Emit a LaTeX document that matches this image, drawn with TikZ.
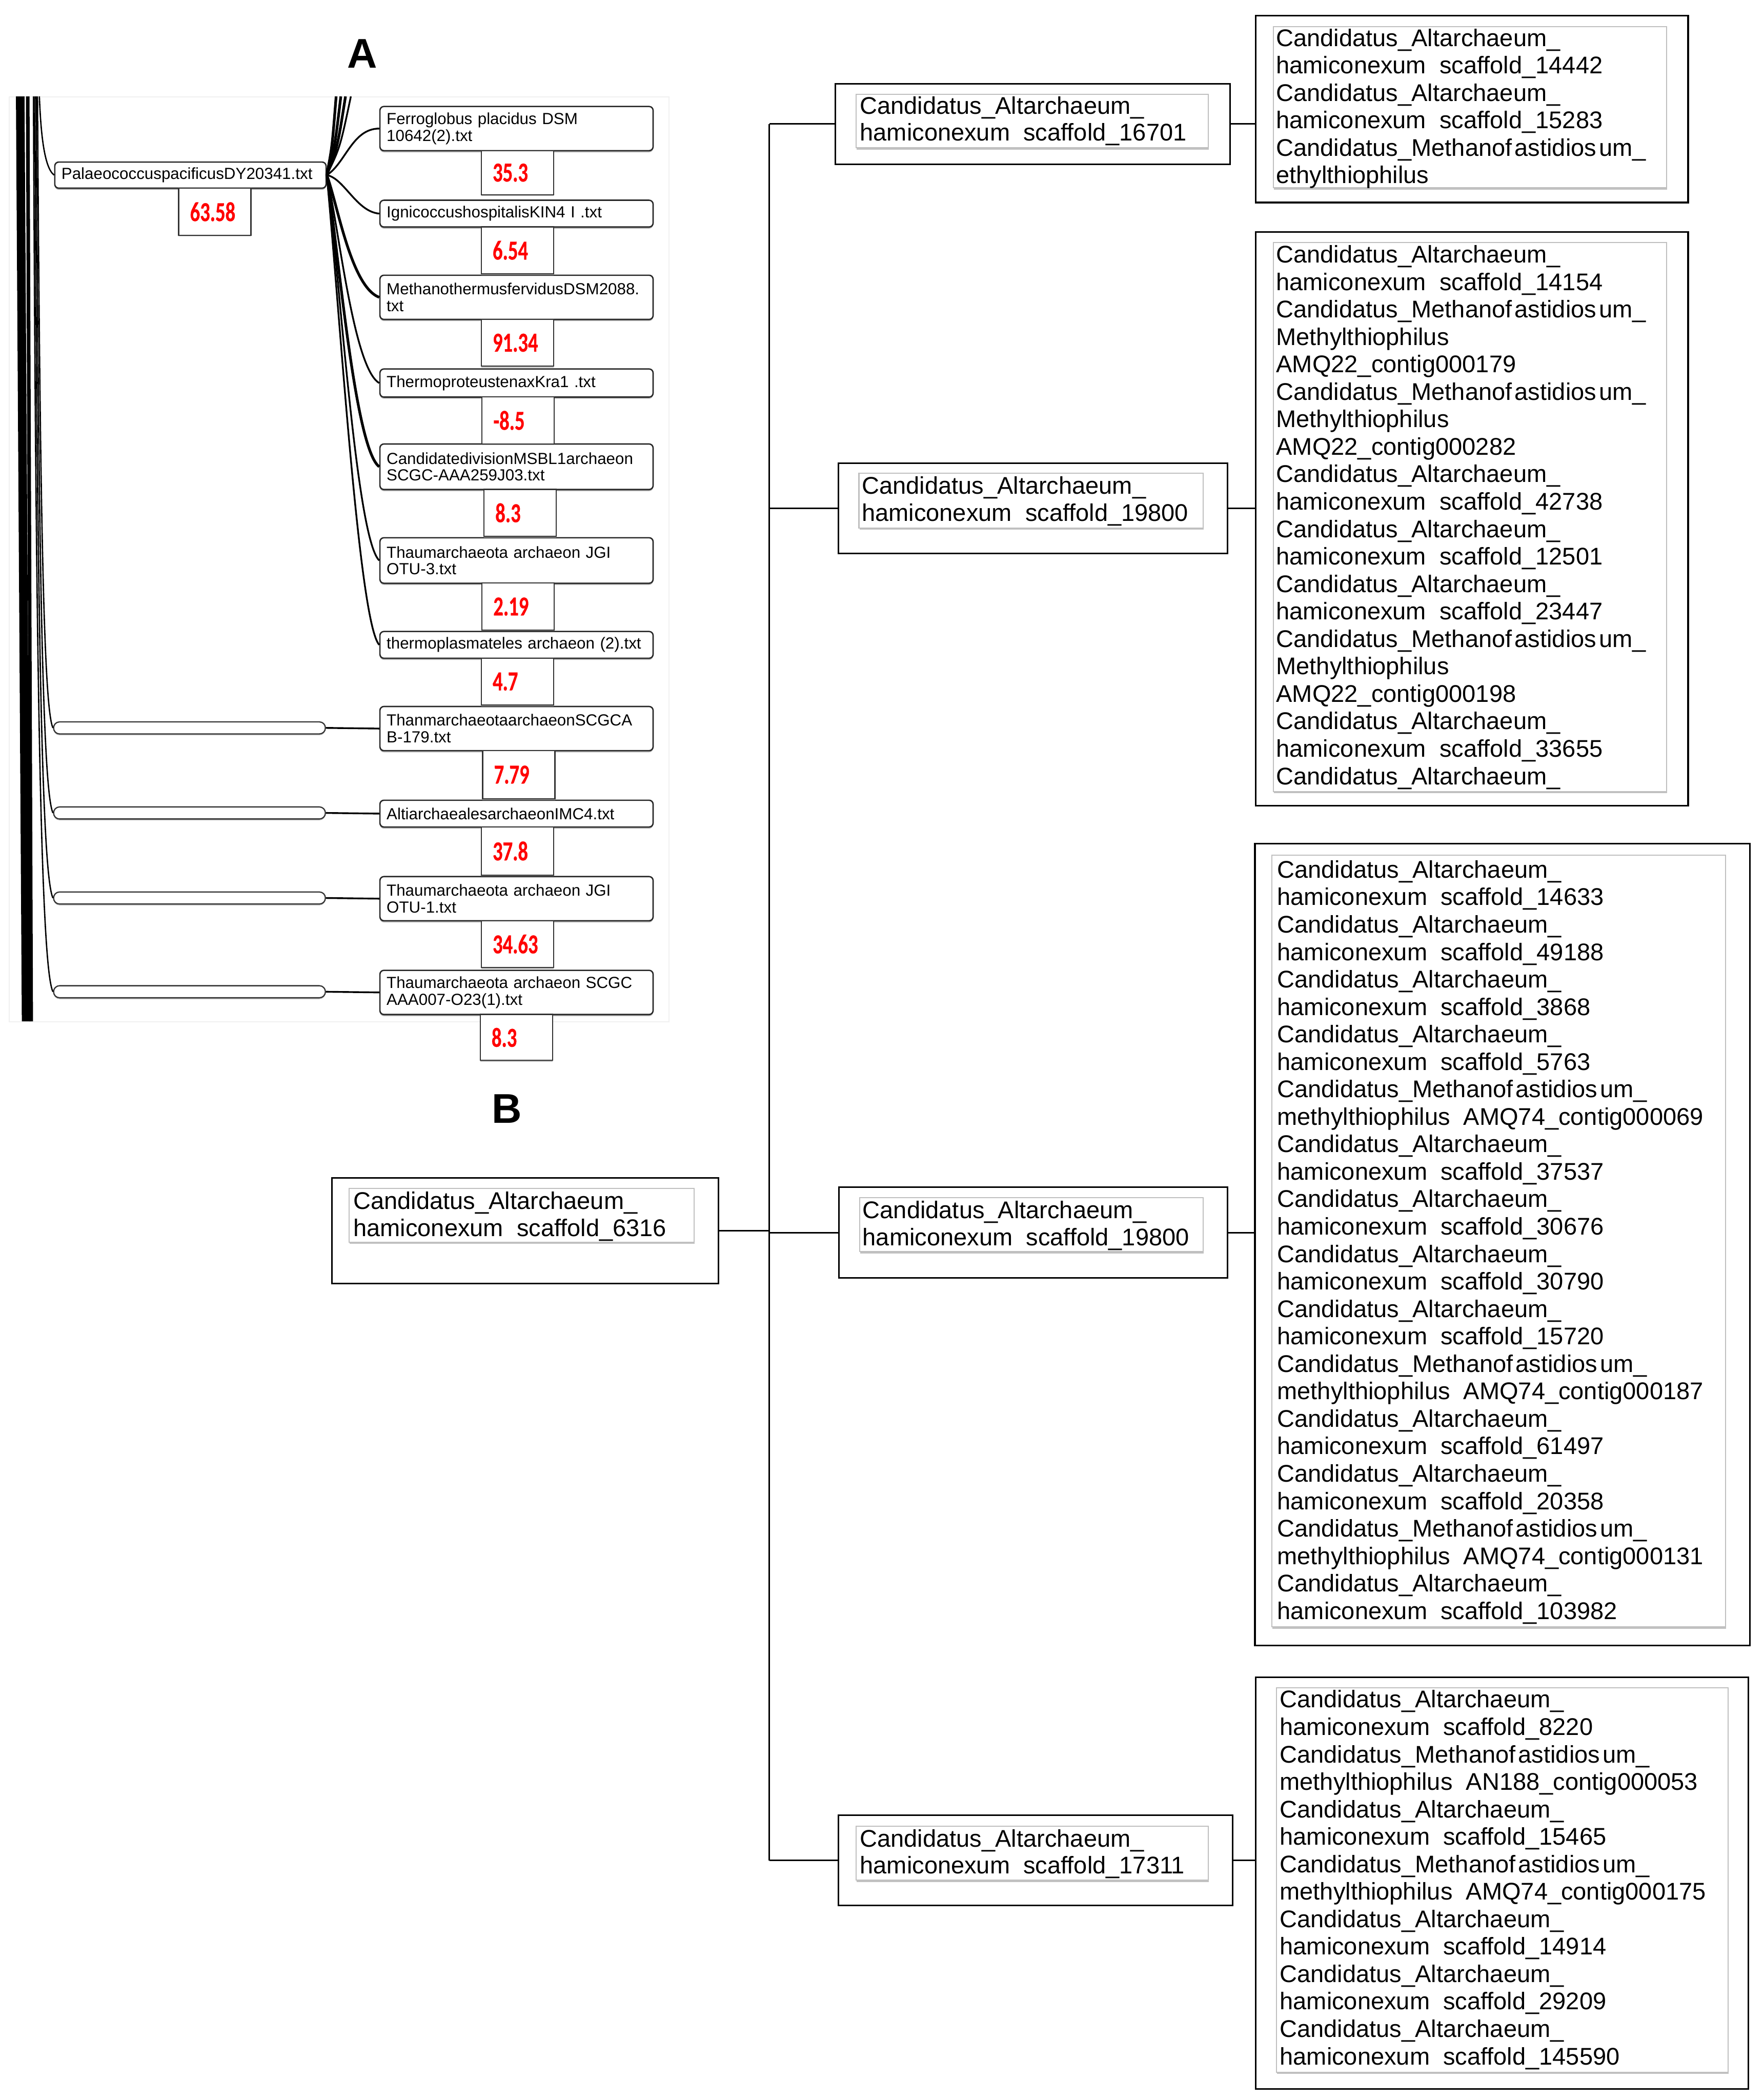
\documentclass[tikz,border=0pt]{standalone}
\usepackage{fontspec}
\setmainfont{Liberation Sans}
\newfontfamily\numfont{Carlito}[FakeStretch=0.72, BoldFeatures={FakeStretch=0.72, FakeBold=0.5}]
\usetikzlibrary{shadows}
\newcommand{\cAlt}{Candidatus\_Altarchaeum\_}
\newcommand{\cMeth}{Candidatus\_Methanof\kern2pt astidios\kern2pt um\_}
\newcommand{\hamS}[1]{hamiconexum\ \kern5pt scaffold\_#1}
\newcommand{\mAMQ}[1]{methylthiophilus\ \kern5pt #1}
\newcommand{\fl}{\rule{0pt}{14pt}}
\tikzset{
  albl/.style={draw=black!85, line width=1pt, rounded corners=3pt, fill=white,
    text width=194pt, inner xsep=5pt, inner ysep=0pt, align=left,
    font=\fontsize{12}{12.5}\selectfont, anchor=north west, minimum height=#1,
    drop shadow={shadow xshift=0pt, shadow yshift=-1.2pt, fill=black!45, opacity=0.7}},
  anum/.style={draw=black!80, line width=0.8pt, fill=white, text width=37pt,
    inner xsep=8.5pt, inner ysep=0pt, align=left, anchor=north west, minimum height=#1,
    font=\numfont\bfseries\fontsize{20.5}{20.5}\selectfont, text=red,
    drop shadow={shadow xshift=0pt, shadow yshift=-1pt, fill=black!45, opacity=0.6}},
  aempty/.style={draw=black!80, line width=0.9pt, rounded corners=4.5pt, fill=white,
    minimum width=203pt, minimum height=9pt, inner sep=0pt,
    drop shadow={shadow xshift=0pt, shadow yshift=-1pt, fill=black!45, opacity=0.6}},
  thinbr/.style={line width=1pt},
  branch/.style={line width=1.3pt},
  bundle/.style={line width=2pt},
  bouter/.style={draw=black, line width=1.2pt, fill=white, inner sep=0pt, anchor=north west},
  binner/.style={draw=black!25, line width=0.8pt, fill=white, inner sep=0pt, anchor=north west,
    drop shadow={shadow xshift=0.4pt, shadow yshift=-1.3pt, fill=black!30, opacity=0.8}},
  btxt/.style={anchor=north west, inner sep=0pt, align=left, font=\fontsize{18}{20.5}\selectfont},
  bmtxt/.style={anchor=north west, inner sep=0pt, align=left, font=\fontsize{18}{20.2}\selectfont},
  conn/.style={line width=1.1pt},
  plabel/.style={font=\bfseries\fontsize{31}{31}\selectfont, inner sep=0pt},
}
\begin{document}
\begin{tikzpicture}[x=1pt,y=-1pt]
\useasboundingbox (0,0) rectangle (1317,1568);

% ---------------- Panel A ----------------
\node[draw=black!6, line width=0.8pt, minimum width=492.5pt, minimum height=690.6pt,
      anchor=north west, inner sep=0pt] (panelA) at (6.5,72) {};
\node[plabel] (labA) at (270.5,40) {A};

% trunk
\draw[line width=6.4pt] (15.1,72) -- (19.5,762.6);
\draw[line width=2.7pt] (20.7,72) -- (23.3,762.6);

% left-side nodes
\node[albl=19.5pt, text width=192.6pt] (palaeo) at (40.4,120.5) {PalaeococcuspacificusDY20341.txt};
\node[aempty] (e1) at (141.5,543.5) {};
\node[aempty] (e2) at (141.5,607) {};
\node[aempty] (e3) at (141.5,670.5) {};
\node[aempty] (e4) at (141.5,740.5) {};

% coordinates where the cropped branches leave the picture
\coordinate (l0) at (29.4,72);
\coordinate (l1) at (28,72);
\coordinate (l2) at (27,72);
\coordinate (l3) at (26,72);
\coordinate (l4) at (25,72);
\coordinate (u1) at (251,72);
\coordinate (u2) at (254.5,72);
\coordinate (u3) at (258,72);
\coordinate (u4) at (262,72);

% right-side label boxes
\node[albl=33pt] (ferro) at (283.2,79) {Ferroglobus placidus DSM\\10642(2).txt};
\node[albl=20pt] (igni)  at (283.2,149) {IgnicoccushospitalisKIN4 I .txt};
\node[albl=33pt] (metha) at (283.2,205) {MethanothermusfervidusDSM2088.\\txt};
\node[albl=21pt] (tprot) at (283.2,275) {ThermoproteustenaxKra1 .txt};
\node[albl=34pt] (cdiv)  at (283.2,331) {CandidatedivisionMSBL1archaeon\\SCGC-AAA259J03.txt};
\node[albl=34pt] (otu3)  at (283.2,401) {Thaumarchaeota archaeon JGI\\OTU-3.txt};
\node[albl=20pt] (tplas) at (283.2,471) {thermoplasmateles archaeon (2).txt};
\node[albl=33pt] (thanm) at (283.2,527) {ThanmarchaeotaarchaeonSCGCA\\B-179.txt};
\node[albl=20pt] (alti)  at (283.2,597) {AltiarchaealesarchaeonIMC4.txt};
\node[albl=33pt] (otu1)  at (283.2,654) {Thaumarchaeota archaeon JGI\\OTU-1.txt};
\node[albl=33pt] (scgc)  at (283.2,724) {Thaumarchaeota archaeon SCGC\\AAA007-O23(1).txt};

% numbers
\node[anum=35pt]   (n0)  at (133,140.2) {63.58};
\node[anum=33pt]   (n1)  at (359,112) {35.3};
\node[anum=35pt]   (n2)  at (359,169) {6.54};
\node[anum=35pt]   (n3)  at (359,238) {91.34};
\node[anum=35pt]   (n4)  at (359.5,296) {-8.5};
\node[anum=35pt]   (n5)  at (361,365) {8.3};
\node[anum=35pt]   (n6)  at (359.5,435) {2.19};
\node[anum=35pt]   (n7)  at (359,491) {4.7};
\node[anum=36pt]   (n8)  at (360,560) {7.79};
\node[anum=36pt]   (n9)  at (359,617) {37.8};
\node[anum=35pt]   (n10) at (359,687) {34.63};
\node[anum=34.4pt] (n11) at (358.2,757) {8.3};

% branches on the left
\draw[thinbr] (l0) .. controls (30.5,100) and (33,125) .. (palaeo.west);
\draw[thinbr] (l1) .. controls (30,400) and (33,530) .. (e1.west);
\draw[thinbr] (l2) .. controls (29,450) and (32.5,592) .. (e2.west);
\draw[thinbr] (l3) .. controls (28,500) and (32,655) .. (e3.west);
\draw[thinbr] (l4) .. controls (27,550) and (31.5,725) .. (e4.west);

% bundle above the Palaeococcus node
\draw[bundle] (palaeo.east) .. controls (248,110) .. (u1);
\draw[bundle] (palaeo.east) .. controls (250,110) .. (u2);
\draw[bundle] (palaeo.east) .. controls (252,110) .. (u3);
\draw[branch] (palaeo.east) .. controls (254,110) .. (u4);

% branches from the Palaeococcus node
\draw[branch] (palaeo.east) .. controls (258,122) and (263,96) .. (ferro.west);
\draw[branch] (palaeo.east) .. controls (257,133) and (266,158) .. (igni.west);
\draw[bundle] (palaeo.east) .. controls (252,152) and (262,214) .. (metha.west);
\draw[branch] (palaeo.east) .. controls (253,170) and (264,275) .. (tprot.west);
\draw[bundle] (palaeo.east) .. controls (253,190) and (265,335) .. (cdiv.west);
\draw[branch] (palaeo.east) .. controls (254,210) and (266,402) .. (otu3.west);
\draw[branch] (palaeo.east) .. controls (254,236) and (268,465) .. (tplas.west);

% straight links from the empty nodes
\draw[branch] (e1.east) -- (thanm.west);
\draw[branch] (e2.east) -- (alti.west);
\draw[branch] (e3.east) -- (otu1.west);
\draw[branch] (e4.east) -- (scgc.west);

% ---------------- Panel B ----------------
\node[plabel] (labB) at (378.5,828) {B};

% root
\node[bouter, minimum width=288.7pt, minimum height=78.6pt] (root) at (247.3,879) {};
\node[binner, minimum width=257.6pt, minimum height=40pt] (rooti) at (260.4,887) {};
\node[bmtxt] (roott) at (263.7,888.7) {\fl\cAlt\\ \hamS{6316}};

% middle boxes
\node[bouter, minimum width=294.6pt, minimum height=60pt] (m1) at (623.2,62) {};
\node[binner, minimum width=263.1pt, minimum height=40pt] (m1i) at (638.9,70) {};
\node[bmtxt] (m1t) at (642,70.8) {\fl\cAlt\\ \hamS{16701}};

\node[bouter, minimum width=290.6pt, minimum height=67.3pt] (m2) at (625.4,345.2) {};
\node[binner, minimum width=257pt, minimum height=40.8pt] (m2i) at (641,353) {};
\node[bmtxt] (m2t) at (643.4,354.6) {\fl\cAlt\\ \hamS{19800}};

\node[bouter, minimum width=290pt, minimum height=68pt] (m3) at (626,885.7) {};
\node[binner, minimum width=256.4pt, minimum height=40.5pt] (m3i) at (641.6,893.7) {};
\node[bmtxt] (m3t) at (644,895.5) {\fl\cAlt\\ \hamS{19800}};

\node[bouter, minimum width=294.6pt, minimum height=67.4pt] (m4) at (625.4,1354.8) {};
\node[binner, minimum width=263.1pt, minimum height=40.1pt] (m4i) at (638.9,1363.3) {};
\node[bmtxt] (m4t) at (642,1364.7) {\fl\cAlt\\ \hamS{17311}};

% right boxes
\node[bouter, minimum width=323pt, minimum height=139.4pt] (r1) at (937,11.2) {};
\node[binner, minimum width=293.5pt, minimum height=120.4pt] (r1i) at (950.5,19.4) {};
\node[btxt] (r1t) at (952.8,20.3) {\fl\cAlt\\ \hamS{14442}\\ \cAlt\\ \hamS{15283}\\ \cMeth\\ ethylthiophilus};

\node[bouter, minimum width=323pt, minimum height=428.2pt] (r2) at (937,172.7) {};
\node[binner, minimum width=293.5pt, minimum height=409.7pt] (r2i) at (950.5,180.8) {};
\node[btxt] (r2t) at (952.8,182) {\fl\cAlt\\ \hamS{14154}\\ \cMeth\\ Methylthiophilus\\ AMQ22\_contig000179\\
 \cMeth\\ Methylthiophilus\\ AMQ22\_contig000282\\ \cAlt\\ \hamS{42738}\\ \cAlt\\ \hamS{12501}\\
 \cAlt\\ \hamS{23447}\\ \cMeth\\ Methylthiophilus\\ AMQ22\_contig000198\\ \cAlt\\ \hamS{33655}\\ \cAlt};

\node[bouter, minimum width=369.5pt, minimum height=598.6pt] (r3) at (936.5,629.3) {};
\node[binner, minimum width=338.8pt, minimum height=576.2pt] (r3i) at (949.2,638.2) {};
\node[btxt] (r3t) at (953.6,641.3) {\fl\cAlt\\ \hamS{14633}\\ \cAlt\\ \hamS{49188}\\ \cAlt\\ \hamS{3868}\\
 \cAlt\\ \hamS{5763}\\ \cMeth\\ \mAMQ{AMQ74\_contig000069}\\ \cAlt\\ \hamS{37537}\\ \cAlt\\ \hamS{30676}\\
 \cAlt\\ \hamS{30790}\\ \cAlt\\ \hamS{15720}\\ \cMeth\\ \mAMQ{AMQ74\_contig000187}\\ \cAlt\\ \hamS{61497}\\
 \cAlt\\ \hamS{20358}\\ \cMeth\\ \mAMQ{AMQ74\_contig000131}\\ \cAlt\\ \hamS{103982}};

\node[bouter, minimum width=368pt, minimum height=307.2pt] (r4) at (937,1251.8) {};
\node[binner, minimum width=337.2pt, minimum height=286.9pt] (r4i) at (952.8,1259.9) {};
\node[btxt] (r4t) at (955.5,1260.9) {\fl\cAlt\\ \hamS{8220}\\ \cMeth\\ \mAMQ{AN188\_contig000053}\\ \cAlt\\ \hamS{15465}\\
 \cMeth\\ \mAMQ{AMQ74\_contig000175}\\ \cAlt\\ \hamS{14914}\\ \cAlt\\ \hamS{29209}\\ \cAlt\\ \hamS{145590}};

% connectors
\coordinate (tk) at (574.5,0);
\draw[conn] (tk |- m1.west) -- (tk |- m4.west);
\draw[conn] (root.east) -- (root.east -| tk);
\draw[conn] (tk |- m1.west) -- (m1.west);
\draw[conn] (tk |- m2.west) -- (m2.west);
\draw[conn] (tk |- m3.west) -- (m3.west);
\draw[conn] (tk |- m4.west) -- (m4.west);
\draw[conn] (m1.east) -- (m1.east -| r1.west);
\draw[conn] (m2.east) -- (m2.east -| r2.west);
\draw[conn] (m3.east) -- (m3.east -| r3.west);
\draw[conn] (m4.east) -- (m4.east -| r4.west);
\end{tikzpicture}
\end{document}
